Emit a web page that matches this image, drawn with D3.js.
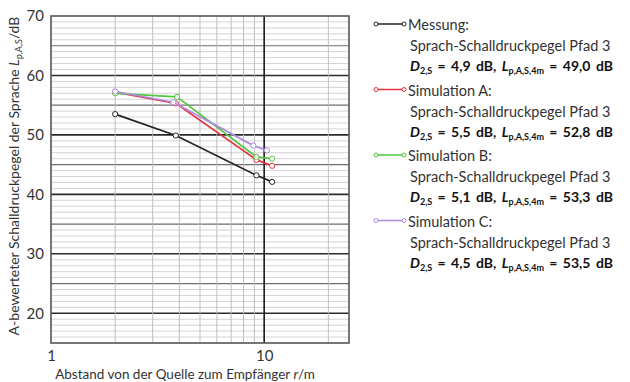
<!DOCTYPE html>
<html>
<head>
<meta charset="utf-8">
<script src="https://cdnjs.cloudflare.com/ajax/libs/d3/7.8.5/d3.min.js"></script>
<style>
  body { margin: 0; background: #fff; }
  svg { font-family: Lato, "Open Sans", sans-serif; }
</style>
</head>
<body>
<svg width="630" height="382"></svg>
<script>
"use strict";

// distances r/m
const xMessung = [2.0, 3.85, 9.2, 10.9];
const xSimA = [2.0, 3.85, 9.2, 10.9];
const xSimB = [2.0, 3.9, 9.2, 10.9];
const xSimC = [2.0, 3.75, 8.9, 10.3];

// levels L p,A,S / dB
const yMessung = [53.5, 49.9, 43.2, 42.1];
const ySimA = [57.2, 55.3, 45.8, 44.8];
const ySimB = [57.0, 56.4, 46.3, 46.0];
const ySimC = [57.3, 55.5, 48.2, 47.4];

const seriesNames = ["Messung:", "Simulation A:", "Simulation B:", "Simulation C:"];
const seriesColors = ["#222222", "#e6323c", "#55c743", "#ad8ae0"];
const dValues = ["4,9", "5,5", "5,1", "4,5"];
const lValues = ["49,0", "52,8", "53,3", "53,5"];

const yTicks = [20, 30, 40, 50, 60, 70];
const xTickLabels = [1, 10];

const series = [
  { x: xMessung, y: yMessung },
  { x: xSimA, y: ySimA },
  { x: xSimB, y: ySimB },
  { x: xSimC, y: ySimC },
];

const svg = d3.select("svg");
const margin = { top: 16, left: 51 };
const innerWidth = 298;
const innerHeight = 327;

const scaleX = d3.scaleLog().domain([1, 25]).range([0, innerWidth]);
const scaleY = d3.scaleLinear().domain([15, 70]).range([innerHeight, 0]);

const g = svg.append("g").attr("transform", `translate(${margin.left},${margin.top})`);

// horizontal grid: 1 dB minor, 5 dB medium, 10 dB major
d3.range(16, 70).forEach((v) => {
  const major = v % 10 === 0;
  const mid = v % 5 === 0;
  g.append("line")
    .attr("x1", 0).attr("x2", innerWidth)
    .attr("y1", scaleY(v)).attr("y2", scaleY(v))
    .attr("stroke", major ? "#2a2a2a" : mid ? "#6e6e6e" : "#c8c8c8")
    .attr("stroke-width", major ? 1.6 : mid ? 1.2 : 0.8);
});

// vertical grid on decades
const xGrid = [2, 3, 4, 5, 6, 7, 8, 9, 10, 20];
xGrid.forEach((v) => {
  g.append("line")
    .attr("x1", scaleX(v)).attr("x2", scaleX(v))
    .attr("y1", 0).attr("y2", innerHeight)
    .attr("stroke", v === 10 ? "#1a1a1a" : "#b8b8b8")
    .attr("stroke-width", v === 10 ? 1.6 : 0.9);
});

// frame
g.append("rect")
  .attr("width", innerWidth).attr("height", innerHeight)
  .attr("fill", "none").attr("stroke", "#555").attr("stroke-width", 1.6);

// axes labels (no axis lines)
const yAxis = d3.axisLeft(scaleY).tickValues(yTicks).tickSize(0).tickPadding(7);
g.append("g").call(yAxis)
  .call((s) => s.select(".domain").remove())
  .selectAll("text").attr("font-size", 15).attr("fill", "#333")
  .attr("font-family", "Lato, sans-serif");

const xAxis = d3.axisBottom(scaleX).tickValues(xTickLabels).tickFormat(d3.format("d")).tickSize(0).tickPadding(7);
g.append("g").attr("transform", `translate(0,${innerHeight})`).call(xAxis)
  .call((s) => s.select(".domain").remove())
  .selectAll("text").attr("font-size", 15).attr("fill", "#333")
  .attr("font-family", "Lato, sans-serif");

// series
const line = d3.line().x((d) => scaleX(d[0])).y((d) => scaleY(d[1]));
series.forEach((s, i) => {
  const pts = s.x.map((x, j) => [x, s.y[j]]);
  g.append("path").datum(pts)
    .attr("d", line).attr("fill", "none")
    .attr("stroke", seriesColors[i]).attr("stroke-width", 1.7);
  g.selectAll(null).data(pts).enter().append("circle")
    .attr("cx", (d) => scaleX(d[0])).attr("cy", (d) => scaleY(d[1]))
    .attr("r", 2.6).attr("fill", "#fff")
    .attr("stroke", seriesColors[i]).attr("stroke-width", 1);
});

// y axis title
const yTitle = svg.append("text")
  .attr("transform", "translate(19,176) rotate(-90)")
  .attr("text-anchor", "middle").attr("font-size", 14).attr("fill", "#333");
yTitle.append("tspan").text("A-bewerteter Schalldruckpegel der Sprache ");
yTitle.append("tspan").attr("font-style", "italic").text("L");
yTitle.append("tspan").attr("font-size", 9).attr("dy", 3).text("p,A,S");
yTitle.append("tspan").attr("dy", -3).text("/dB");

// x axis title
const xTitle = svg.append("text")
  .attr("x", 185).attr("y", 379)
  .attr("text-anchor", "middle").attr("font-size", 13.5).attr("fill", "#333");
xTitle.append("tspan").text("Abstand von der Quelle zum Empfänger ");
xTitle.append("tspan").attr("font-style", "italic").text("r");
xTitle.append("tspan").text("/m");

// legend
const legend = svg.append("g").attr("transform", "translate(376,24)");
seriesNames.forEach((name, i) => {
  const row = legend.append("g").attr("transform", `translate(0,${i * 65.5})`);
  row.append("line").attr("x1", 0).attr("x2", 28)
    .attr("stroke", seriesColors[i]).attr("stroke-width", 1.5);
  [0, 28].forEach((cx) => row.append("circle").attr("cx", cx).attr("r", 2)
    .attr("fill", "#fff").attr("stroke", seriesColors[i]).attr("stroke-width", 1));
  row.append("text").attr("x", 32).attr("y", 6)
    .attr("font-size", 14.5).attr("fill", "#333").text(name);
  row.append("text").attr("x", 34).attr("y", 27)
    .attr("font-size", 14.5).attr("fill", "#333").text("Sprach-Schalldruckpegel Pfad 3");
  const t = row.append("text").attr("x", 34).attr("y", 47)
    .attr("font-size", 14).attr("font-weight", "bold").attr("fill", "#111")
    .attr("word-spacing", 2);
  t.append("tspan").attr("font-style", "italic").text("D");
  t.append("tspan").attr("font-size", 9).attr("dy", 3).text("2,S");
  t.append("tspan").attr("dy", -3).text(` = ${dValues[i]} dB, `);
  t.append("tspan").attr("font-style", "italic").text("L");
  t.append("tspan").attr("font-size", 9).attr("dy", 3).text("p,A,S,4m");
  t.append("tspan").attr("dy", -3).text(` = ${lValues[i]} dB`);
});
</script>
</body>
</html>
